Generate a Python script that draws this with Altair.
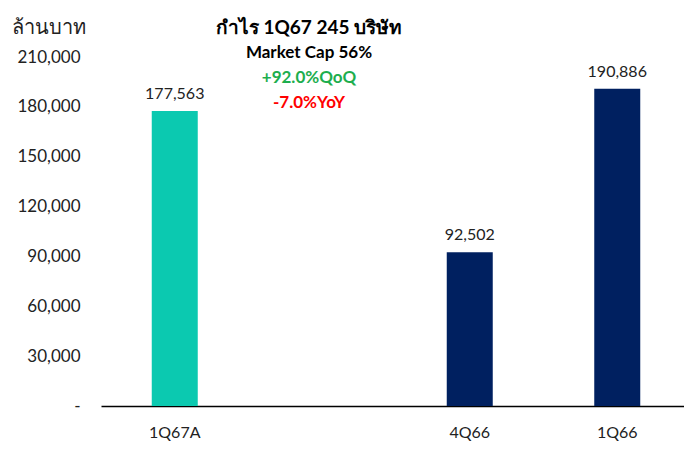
import altair as alt
import pandas as pd

categories = ["1Q67A", " ", "4Q66", "1Q66"]
values = [177563, None, 92502, 190886]
colors = ["#0BC9B0", "#002060", "#002060", "#002060"]
y_ticks = [0, 30000, 60000, 90000, 120000, 150000, 180000, 210000]

title_lines = ["กำไร 1Q67 245 บริษัท", "Market Cap 56%"]
qoq_text = "+92.0%QoQ"
yoy_text = "-7.0%YoY"
unit_text = "ล้านบาท"

df = pd.DataFrame({"cat": categories, "val": values, "color": colors})
bars_df = df.dropna()

FONT = "Lato"

x = alt.X("cat:N", sort=categories, title=None,
          scale=alt.Scale(domain=categories, paddingInner=0, paddingOuter=0,
                          range=[0, 590]),
          axis=alt.Axis(labelAngle=0, labelFontSize=16, labelColor="#222222",
                        labelFont=FONT, ticks=False, domainColor="#000000",
                        domainWidth=1.5, labelPadding=18))
y = alt.Y("val:Q", title=None,
          scale=alt.Scale(domain=[0, 210000], nice=False),
          axis=alt.Axis(values=y_ticks, grid=False, domain=False, ticks=False,
                        labelFontSize=17, labelColor="#222222", labelFont=FONT,
                        labelPadding=21,
                        labelExpr="datum.value == 0 ? '-\u00a0\u00a0\u00a0' : format(datum.value, ',')"))

base = alt.Chart(bars_df)
bars = base.mark_bar(size=46).encode(
    x=x, y=y, color=alt.Color("color:N", scale=None))
labels = base.mark_text(dy=-17, fontSize=16, font=FONT, color="#222222").encode(
    x=alt.X("cat:N", sort=categories), y="val:Q",
    text=alt.Text("val:Q", format=","))

t1 = alt.Chart(pd.DataFrame({"t": [title_lines[0]]})).mark_text(
    fontSize=19, fontWeight="bold", font=FONT, color="#000000", align="center").encode(
    text="t:N", x=alt.value(208), y=alt.value(-29))
t2 = alt.Chart(pd.DataFrame({"t": [title_lines[1]]})).mark_text(
    fontSize=17, fontWeight="bold", font=FONT, color="#000000", align="center").encode(
    text="t:N", x=alt.value(208), y=alt.value(-4))
t3 = alt.Chart(pd.DataFrame({"t": [qoq_text]})).mark_text(
    fontSize=17, fontWeight="bold", font=FONT, color="#1DAE4E", align="center").encode(
    text="t:N", x=alt.value(208), y=alt.value(21))
t4 = alt.Chart(pd.DataFrame({"t": [yoy_text]})).mark_text(
    fontSize=17, fontWeight="bold", font=FONT, color="#FF0000", align="center").encode(
    text="t:N", x=alt.value(208), y=alt.value(46))
unit = alt.Chart(pd.DataFrame({"t": [unit_text]})).mark_text(
    fontSize=20, font=FONT, color="#222222", align="left").encode(
    text="t:N", x=alt.value(-89), y=alt.value(-29))

chart = alt.layer(bars, labels, t1, t2, t3, t4, unit).properties(
    width=583, height=349,
    autosize=alt.AutoSizeParams(type="none"),
    padding={"left": 93, "top": 49, "right": 0, "bottom": 36},
    background="#ffffff",
).configure_view(stroke=None)

chart.save("out.html", embed_options={"renderer": "svg", "actions": False})
